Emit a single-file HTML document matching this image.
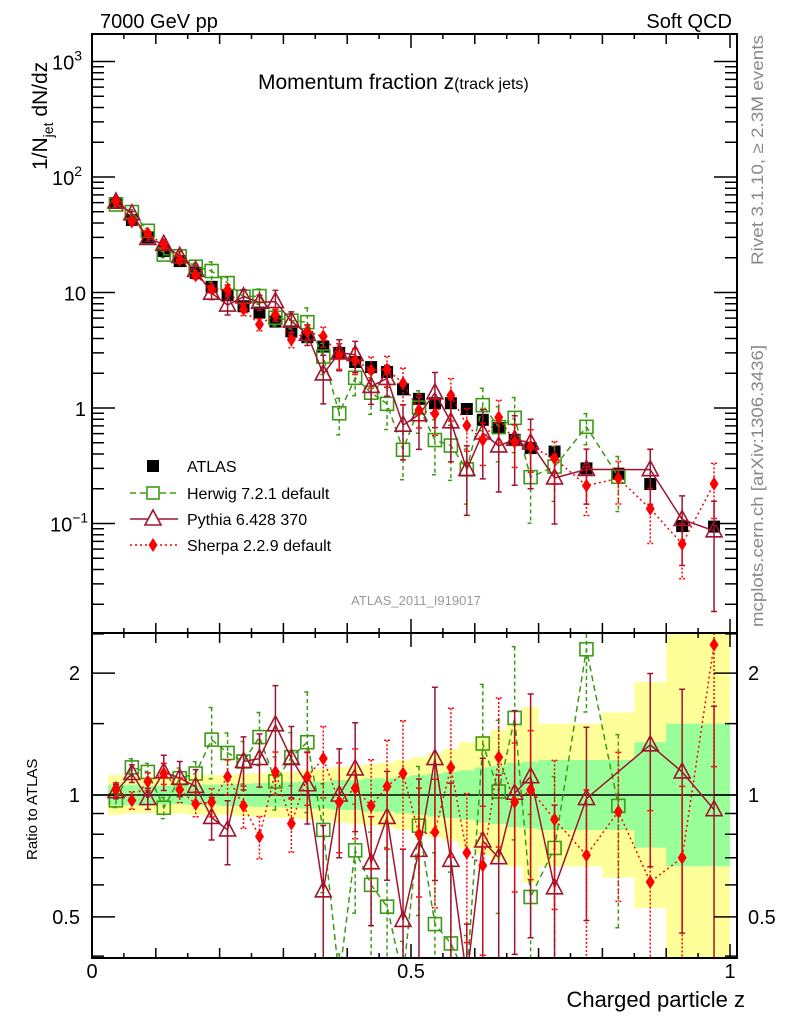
<!DOCTYPE html>
<html><head><meta charset="utf-8"><style>
html,body{margin:0;padding:0;background:#fff;overflow:hidden;width:786px;height:1024px;}
svg{display:block;font-family:"Liberation Sans",Arial,sans-serif;}
</style></head><body>
<svg id="chart" width="786" height="1024" viewBox="0 0 786 1024" xmlns="http://www.w3.org/2000/svg">
<defs>
<clipPath id="clipMain"><rect x="92" y="34" width="645" height="599"/></clipPath>
<clipPath id="clipRatio"><rect x="92" y="633" width="645" height="325"/></clipPath>
</defs>
<text x="100" y="28" font-size="20">7000 GeV pp</text>
<text x="732" y="28" font-size="20" text-anchor="end">Soft QCD</text>
<text x="258" y="89" font-size="21">Momentum fraction <tspan font-size="21">z</tspan><tspan font-size="16">(track jets)</tspan></text>
<text x="416" y="605" font-size="13" fill="#999" text-anchor="middle">ATLAS_2011_I919017</text>
<text transform="translate(763,265) rotate(-90)" font-size="16.5" fill="#888" textLength="230" lengthAdjust="spacingAndGlyphs">Rivet 3.1.10, ≥ 2.3M events</text>
<text transform="translate(763,627) rotate(-90)" font-size="16.5" fill="#888" textLength="282" lengthAdjust="spacingAndGlyphs">mcplots.cern.ch [arXiv:1306.3436]</text>
<text transform="translate(47,170) rotate(-90)" font-size="21">1/N<tspan font-size="14" dy="6">jet</tspan><tspan dy="-6"> dN/dz</tspan></text>
<text transform="translate(37,860) rotate(-90)" font-size="15">Ratio to ATLAS</text>
<text x="745" y="1007" font-size="22" text-anchor="end">Charged particle z</text>
<g id="gBands" clip-path="url(#clipRatio)"></g>
<g id="gMain" clip-path="url(#clipMain)"></g>
<g id="gRatio" clip-path="url(#clipRatio)"></g>
<g id="gAxes"></g>
<g id="gLegend"></g>
</svg>
<script>
// ---- data ----
const binEdges = [0.025,0.05,0.075,0.1,0.125,0.15,0.175,0.2,0.225,0.25,0.275,0.3,0.325,0.35,0.375,0.4,0.425,0.45,0.475,0.5,0.525,0.55,0.575,0.6,0.625,0.65,0.675,0.7,0.75,0.8,0.85,0.9,0.95,1.0];
const atlasValues = [59.6,42.5,30,22.9,18.7,14.8,11.2,9.5,7.6,6.7,5.6,4.6,4.1,3.4,3.0,2.5,2.26,2.05,1.45,1.2,1.1,1.1,0.98,0.79,0.67,0.53,0.45,0.42,0.30,0.27,0.22,0.095,0.094];
const herwigRatio = [0.97,1.17,1.14,0.93,1.10,1.13,1.37,1.27,1.21,1.39,1.08,1.24,1.35,0.82,0.30,0.73,0.60,0.53,0.30,0.84,0.48,0.43,0.30,1.34,1.02,1.55,0.56,0.74,2.29,0.94,null,null,null];
const pythiaRatio = [1.02,1.13,0.98,1.14,1.10,1.05,0.88,0.82,1.21,1.23,1.49,1.23,1.06,0.58,1.0,1.16,0.68,0.88,0.49,0.73,1.23,0.69,0.30,0.77,0.70,1.01,1.11,0.59,0.98,null,1.33,1.14,0.92];
const sherpaRatio = [1.03,0.97,1.08,1.13,1.03,0.95,0.96,1.11,0.94,0.79,1.14,0.85,1.11,1.23,0.96,1.04,0.94,1.05,1.13,0.80,0.81,1.17,0.72,0.67,1.24,0.96,1.03,0.87,0.71,0.91,0.61,0.70,2.35];
const herwigErr = [0.04,0.05,0.05,0.06,0.06,0.07,0.2,0.12,0.12,0.15,0.15,0.15,0.33,0.3,0.35,0.3,0.35,0.4,0.45,0.4,0.5,0.5,0.5,0.4,0.5,0.5,0.6,0.5,0.3,0.5,null,null,null];
const pythiaErr = [0.04,0.05,0.06,0.1,0.1,0.1,0.12,0.18,0.15,0.15,0.25,0.2,0.2,0.45,0.3,0.3,0.3,0.3,0.5,0.5,0.5,0.55,0.6,0.6,0.6,0.6,0.6,0.6,0.5,null,0.5,0.6,0.8];
const sherpaErr = [0.04,0.05,0.05,0.06,0.07,0.07,0.08,0.1,0.12,0.12,0.12,0.15,0.15,0.2,0.25,0.25,0.3,0.3,0.35,0.3,0.35,0.4,0.4,0.4,0.4,0.4,0.4,0.4,0.45,0.4,0.5,0.5,0.5];
const greenBand = [1.06,1.06,1.055,1.055,1.055,1.06,1.06,1.065,1.065,1.07,1.07,1.075,1.08,1.08,1.09,1.09,1.1,1.1,1.11,1.12,1.13,1.14,1.15,1.17,1.18,1.2,1.21,1.22,1.22,1.22,1.35,1.5,1.5];
const yellowBand = [1.12,1.11,1.11,1.11,1.11,1.12,1.12,1.12,1.13,1.13,1.14,1.14,1.15,1.16,1.17,1.18,1.19,1.2,1.22,1.24,1.27,1.3,1.35,1.4,1.45,1.5,1.65,1.5,1.5,1.6,1.9,2.6,2.6];
const mainTickLabels = [[1000,"10","3"],[100,"10","2"],[10,"10",""],[1,"1",""],[0.1,"10","−1"]];
const ratioTickLabels = [[2,"2"],[1,"1"],[0.5,"0.5"]];
const xTickLabels = [[0,"0"],[0.5,"0.5"],[1,"1"]];

// ---- axes ----
const NS="http://www.w3.org/2000/svg";
const X = z => 92 + z*638;
const MT=34, MB=633, RB=958, L=92, R=737;
const clamp=(y,a,b)=>Math.max(a,Math.min(b,y));
const YM = v => clamp(408 - 115.5*Math.log10(v), MT-20, MB+20);
const YR = r => clamp(795 - 405*Math.log10(r), MB-20, RB+20);
function mk(tag, attrs, parent){const e=document.createElementNS(NS,tag);for(const k in attrs)e.setAttribute(k,attrs[k]);parent.appendChild(e);return e;}
const centers = atlasValues.map((v,i)=>(binEdges[i]+binEdges[i+1])/2);

const gB=document.getElementById('gBands');
function bandPath(fArr){let up='',dn='';
  for(let i=0;i<fArr.length;i++){const x0=X(binEdges[i]),x1=X(binEdges[i+1]);
    up+=(i?'L':'M')+x0+','+YR(fArr[i])+'L'+x1+','+YR(fArr[i]);}
  for(let i=fArr.length-1;i>=0;i--){const x0=X(binEdges[i]),x1=X(binEdges[i+1]);
    dn+='L'+x1+','+YR(1/fArr[i])+'L'+x0+','+YR(1/fArr[i]);}
  return up+dn+'Z';}
let yb=mk('path',{d:bandPath(yellowBand),fill:'#ffff99'},gB);


let gb=mk('path',{d:bandPath(greenBand),fill:'#99ff99'},gB);



const series=[
 {name:'herwig',ratio:herwigRatio,err:herwigErr,color:'#3c9a14',dash:'6,4',marker:'square'},
 {name:'pythia',ratio:pythiaRatio,err:pythiaErr,color:'#a0142d',dash:'',marker:'triangle'},
 {name:'sherpa',ratio:sherpaRatio,err:sherpaErr,color:'#ff0000',dash:'2,3',marker:'diamond'}
];
function marker(type,x,y,color,parent){
  if(type==='square') return mk('rect',{x:x-6.5,y:y-6.5,width:13,height:13,fill:'none',stroke:color,'stroke-width':1.6},parent);
  if(type==='triangle') return mk('path',{d:`M${x},${y-9}L${x+8},${y+6}L${x-8},${y+6}Z`,fill:'none',stroke:color,'stroke-width':1.6},parent);
  if(type==='diamond') return mk('path',{d:`M${x},${y-7}L${x+4.5},${y}L${x},${y+7}L${x-4.5},${y}Z`,fill:color},parent);
  return mk('rect',{x:x-6,y:y-6,width:12,height:12,fill:color},parent);
}
function drawPanel(g, yf, valFn, panel){
  series.forEach(s=>{
    const sg=mk('g',{},g);
    
    
    let d='';
    s.ratio.forEach((r,i)=>{ if(r==null)return; const v=valFn(r,i); d+=(d?'L':'M')+X(centers[i])+','+yf(v);});
    const ln=mk('path',{d:d,fill:'none',stroke:s.color,'stroke-width':1.5,'stroke-dasharray':s.dash},sg);
    
    
    s.ratio.forEach((r,i)=>{ if(r==null)return; const v=valFn(r,i), e=s.err[i]||0;
      const x=X(centers[i]); const yt=yf(v*(1+e)), ybt=yf(Math.max(v*(1-e),v*0.02));
      const eb=mk('path',{d:`M${x},${yt}L${x},${ybt}M${x-3},${yt}L${x+3},${yt}M${x-3},${ybt}L${x+3},${ybt}`,stroke:s.color,'stroke-width':1.5,'stroke-dasharray':s.dash?(s.name==='sherpa'?'2,2':'4,3'):'',fill:'none'},sg);
      
      
      const m=marker(s.marker,x,yf(v),s.color,sg);
      
      
    });
  });
}
const gM=document.getElementById('gMain'), gR=document.getElementById('gRatio');
const ag=mk('g',{},gM);


atlasValues.forEach((v,i)=>{const m=marker('filled',X(centers[i]),YM(v),'#000',ag);
  
  });
drawPanel(gM, YM, (r,i)=>r*atlasValues[i], 'main');
const rl=mk('line',{x1:L,x2:R,y1:YR(1),y2:YR(1),stroke:'#000','stroke-width':1.5},gR);


drawPanel(gR, YR, (r,i)=>r, 'ratio');

const gA=document.getElementById('gAxes');
let f1=mk('rect',{x:L,y:MT,width:R-L,height:MB-MT,fill:'none',stroke:'#000','stroke-width':2},gA);


let f2=mk('rect',{x:L,y:MB,width:R-L,height:RB-MB,fill:'none',stroke:'#000','stroke-width':2},gA);


let td='';
for(let k=0;k<=20;k++){const z=k*0.05,x=X(z);const len=(k%10===0)?14:(k%2===0?10:5);
  [MT,MB].forEach(y0=>{td+=`M${x},${y0}L${x},${y0+len}`;});
  [MB,RB].forEach(y0=>{td+=`M${x},${y0}L${x},${y0-len}`;});}
for(let e=-2;e<=3;e++){for(let m=1;m<=9;m++){const v=m*Math.pow(10,e);const y=408 - 115.5*Math.log10(v);if(y<MT||y>MB)continue;
  const len=m===1?23:12; td+=`M${L},${y}L${L+len},${y}M${R},${y}L${R-len},${y}`;}}
[0.4,0.5,0.6,0.7,0.8,0.9,1,1.5,2,2.5].forEach(r=>{const y=795 - 405*Math.log10(r);if(y<MB||y>RB)return;const len=(r===0.5||r===1||r===2)?23:12;
  td+=`M${L},${y}L${L+len},${y}M${R},${y}L${R-len},${y}`;});
let tk=mk('path',{d:td,stroke:'#000','stroke-width':1.5,fill:'none'},gA);


mainTickLabels.forEach(([v,b,s])=>{const t=mk('text',{x:s?74:86,y:YM(v)+8,'font-size':20,'text-anchor':'end'},gA);
  t.textContent=b;
  if(s){const sp=document.createElementNS(NS,'tspan');sp.setAttribute('font-size','14');sp.setAttribute('dy','-9');sp.textContent=s;t.appendChild(sp);t.setAttribute('text-anchor','start');t.setAttribute('x',s==="−1"?50:52);}
  
  });
ratioTickLabels.forEach(([r,s])=>{[[80,'end'],[748,'start']].forEach(([x,a])=>{
  const t=mk('text',{x:x,y:YR(r)+7,'font-size':20,'text-anchor':a},gA);t.textContent=s;
  
  });});
xTickLabels.forEach(([z,s])=>{const t=mk('text',{x:X(z),y:978,'font-size':20,'text-anchor':'middle'},gA);t.textContent=s;
  
  });

const gL=document.getElementById('gLegend');
const legendLabels=['ATLAS','Herwig 7.2.1 default','Pythia 6.428 370','Sherpa 2.2.9 default'];
const legendY=[466,493,519,545];
legendLabels.forEach((lab,i)=>{const g=mk('g',{},gL);
  
  
  const y=legendY[i];
  if(i===0){marker('filled',153,y,'#000',g);}
  else{const s=series[i-1];mk('line',{x1:130,x2:178,y1:y,y2:y,stroke:s.color,'stroke-width':1.5,'stroke-dasharray':s.dash},g);
    if(s.marker==='square')mk('rect',{x:147,y:y-6,width:12,height:12,fill:'#fff',stroke:s.color,'stroke-width':1.6},g);
    else if(s.marker==='triangle')mk('path',{d:`M153,${y-9}L161,${y+6}L145,${y+6}Z`,fill:'#fff',stroke:s.color,'stroke-width':1.6},g);
    else marker(s.marker,153,y,s.color,g);}
  const t=mk('text',{x:187,y:y+6,'font-size':16},g);t.textContent=lab;});
</script>
</body></html>
